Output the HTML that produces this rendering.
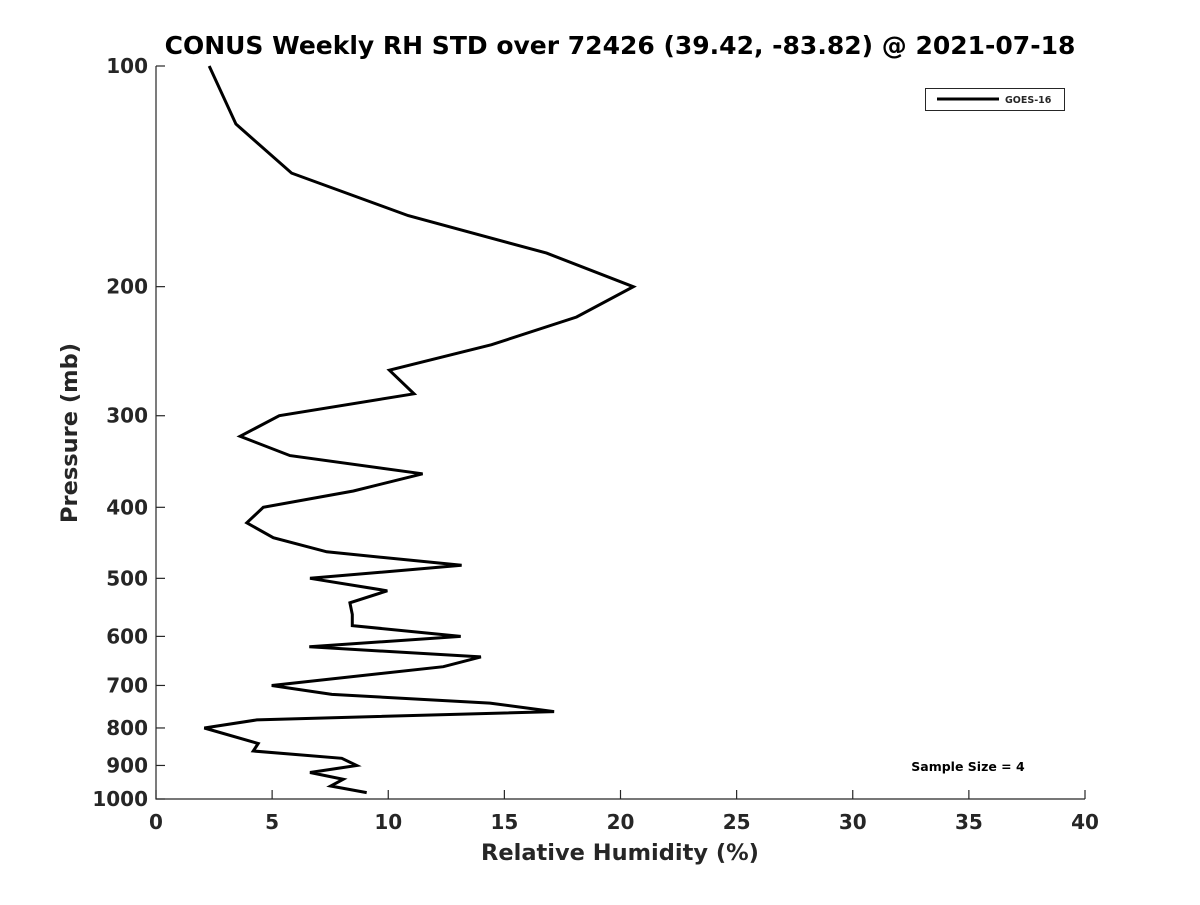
<!DOCTYPE html>
<html><head><meta charset="utf-8"><style>
body{margin:0;background:#fff}
svg text{font-family:"DejaVu Sans","Liberation Sans",sans-serif;font-weight:bold;fill:#262626}
</style></head><body>
<svg width="1200" height="900" viewBox="0 0 1200 900">
<rect width="1200" height="900" fill="#fff"/>
<g id="axes"></g>
<g id="plot"></g>
<text x="620" y="54" text-anchor="middle" font-size="25" style="fill:#000">CONUS Weekly RH STD over 72426 (39.42, -83.82) @ 2021-07-18</text>
<text x="620" y="860" text-anchor="middle" font-size="22.5">Relative Humidity (%)</text>
<text transform="translate(77,433) rotate(-90)" text-anchor="middle" font-size="22.5">Pressure (mb)</text>
<g>
<rect x="925.5" y="88.5" width="139" height="22" fill="#fff" stroke="#262626" stroke-width="1"/>
<line x1="937" y1="99" x2="999" y2="99" stroke="#000" stroke-width="3"/>
<text x="1005" y="103" font-size="9.5">GOES-16</text>
</g>
<text x="968" y="771" text-anchor="middle" font-size="12.5" style="fill:#000">Sample Size = 4</text>
</svg>
<script>
const pressures=[100,120,140,160,180,200,220,240,260,280,300,320,340,360,380,400,420,440,460,480,500,520,540,560,580,600,620,640,660,700,720,740,760,780,800,840,860,880,900,920,940,960,980];
const rhStd=[2.29,3.44,5.84,10.86,16.82,20.55,18.11,14.45,10.05,11.11,5.31,3.62,5.77,11.48,8.50,4.62,3.91,5.05,7.35,13.16,6.63,9.96,8.35,8.45,8.45,13.12,6.60,13.99,12.37,4.98,7.57,14.38,17.14,4.34,2.08,4.40,4.19,8.00,8.64,6.63,8.06,7.52,9.07];
const xTicks=[0,5,10,15,20,25,30,35,40];
const yTicks=[100,200,300,400,500,600,700,800,900,1000];
const X0=156,X1=1085,Y0=66,Y1=799;
const xs=v=>X0+(v-0)/(40-0)*(X1-X0);
const ys=p=>Y0+(Math.log10(p)-2)/(3-2)*(Y1-Y0);
const NS="http://www.w3.org/2000/svg";
const axes=document.getElementById('axes'),plot=document.getElementById('plot');
function mk(tag,attrs,parent){const e=document.createElementNS(NS,tag);for(const k in attrs)e.setAttribute(k,attrs[k]);parent.appendChild(e);return e;}
const ax=mk('path',{d:`M${X0},${Y0}V${Y1}H${X1}`,fill:'none',stroke:'#262626','stroke-width':1.2},axes);


xTicks.forEach(t=>{
  const x=xs(t);
  const l=mk('line',{x1:x,y1:Y1,x2:x,y2:Y1-9,stroke:'#262626','stroke-width':1.2},axes);
  
  
  const tx=mk('text',{x:x,y:Y1+30,'text-anchor':'middle','font-size':20},axes);
  tx.textContent=t;
  
  
});
yTicks.forEach(t=>{
  const y=ys(t);
  const l=mk('line',{x1:X0,y1:y,x2:X0+9,y2:y,stroke:'#262626','stroke-width':1.2},axes);
  
  
  const tx=mk('text',{x:X0-8,y:y+7,'text-anchor':'end','font-size':20},axes);
  tx.textContent=t;
  
  
});
const d=pressures.map((p,i)=>(i?'L':'M')+xs(rhStd[i]).toFixed(1)+','+ys(p).toFixed(1)).join('');
const line=mk('path',{d:d,fill:'none',stroke:'#000','stroke-width':3,'stroke-linejoin':'miter'},plot);


</script>
</body></html>
